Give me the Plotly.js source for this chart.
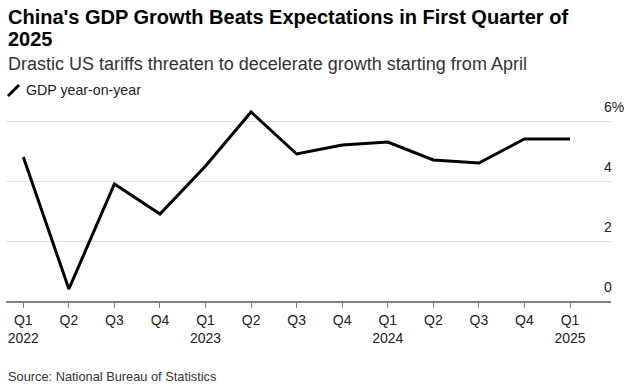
<!DOCTYPE html>
<html>
<head>
<meta charset="utf-8">
<script src="https://cdn.plot.ly/plotly-3.0.1.min.js"></script>
<style>html,body{margin:0;padding:0;background:#fff;}#chart{width:629px;height:391px;}</style>
</head>
<body>
<div id="chart"></div>
<script>
const categories = ["Q1 2022","Q2 2022","Q3 2022","Q4 2022","Q1 2023","Q2 2023","Q3 2023","Q4 2023","Q1 2024","Q2 2024","Q3 2024","Q4 2024","Q1 2025"];
const tickLabels = ["Q1<br>2022","Q2","Q3","Q4","Q1<br>2023","Q2","Q3","Q4","Q1<br>2024","Q2","Q3","Q4","Q1<br>2025"];
const gdpYoY = [4.8, 0.4, 3.9, 2.9, 4.5, 6.3, 4.9, 5.2, 5.3, 4.7, 4.6, 5.4, 5.4];
const yTickVals = [0, 2, 4, 6];
const yTickText = ["0", "2", "4", "6%"];
const seriesName = "GDP year-on-year";
const titleLine1 = "China's GDP Growth Beats Expectations in First Quarter of";
const titleLine2 = "2025";
const subtitle = "Drastic US tariffs threaten to decelerate growth starting from April";
const sourceText = "Source: National Bureau of Statistics";

const FONT = "'Liberation Sans', Arial, sans-serif";
// plot area: x 6..611, y 106..301
const py = (pix) => (301 - pix) / 195;
const px = (pix) => (pix - 6) / 605;

const trace = {
  x: categories,
  y: gdpYoY,
  type: "scatter",
  mode: "lines",
  name: seriesName,
  line: {color: "#000000", width: 3},
  showlegend: false,
  hoverinfo: "skip"
};

const layout = {
  width: 629,
  height: 391,
  paper_bgcolor: "#ffffff",
  plot_bgcolor: "#ffffff",
  margin: {l: 6, r: 18, t: 106, b: 90, pad: 0},
  font: {family: FONT, color: "#222222", size: 14},
  xaxis: {
    type: "category",
    range: [-0.38, 12.9],
    tickvals: categories,
    ticktext: tickLabels,
    showline: true, linecolor: "#808080", linewidth: 2,
    ticks: "outside", ticklen: 5, tickcolor: "#808080", tickwidth: 1,
    showgrid: false, zeroline: false,
    tickfont: {family: FONT, size: 14, color: "#222222"},
    fixedrange: true
  },
  yaxis: {
    side: "right",
    range: [0, 6.5],
    tickvals: yTickVals,
    ticktext: yTickText,
    showgrid: true, gridcolor: "#e2e2e2", gridwidth: 1,
    zeroline: false, showline: false, ticks: "",
    ticklabelposition: "outside top",
    ticklabelstandoff: -8,
    ticklabelshift: -4,
    tickfont: {family: FONT, size: 14, color: "#222222"},
    fixedrange: true
  },
  shapes: [
    {type: "line", xref: "paper", yref: "paper",
     x0: px(8), y0: py(96), x1: px(19), y1: py(85),
     line: {color: "#000000", width: 3}}
  ],
  annotations: [
    {text: "<b>" + titleLine1 + "</b>", xref: "paper", yref: "paper", x: 0, y: py(17),
     xanchor: "left", yanchor: "middle", showarrow: false,
     font: {family: FONT, size: 20, color: "#000000"}},
    {text: "<b>" + titleLine2 + "</b>", xref: "paper", yref: "paper", x: 0, y: py(39),
     xanchor: "left", yanchor: "middle", showarrow: false,
     font: {family: FONT, size: 20, color: "#000000"}},
    {text: subtitle,
     xref: "paper", yref: "paper", x: 0, y: py(64), xanchor: "left", yanchor: "middle",
     showarrow: false, font: {family: FONT, size: 18, color: "#333333"}},
    {text: seriesName,
     xref: "paper", yref: "paper", x: px(24), y: py(90), xanchor: "left", yanchor: "middle",
     showarrow: false, font: {family: FONT, size: 14.2, color: "#222222"}},
    {text: sourceText,
     xref: "paper", yref: "paper", x: 0, y: py(376), xanchor: "left", yanchor: "middle",
     showarrow: false, font: {family: FONT, size: 12.8, color: "#333333"}}
  ]
};

Plotly.newPlot("chart", [trace], layout, {displayModeBar: false, staticPlot: true});
</script>
</body>
</html>
